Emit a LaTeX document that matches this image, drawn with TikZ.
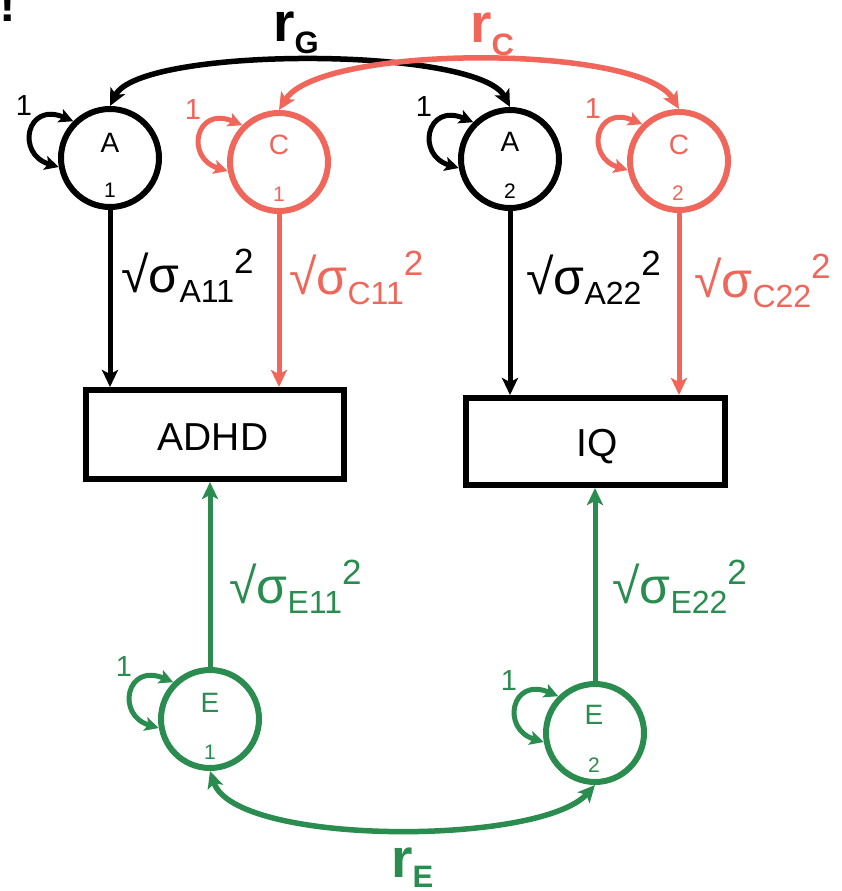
\documentclass[tikz,border=0pt]{standalone}
\usepackage{fontspec}
\setmainfont{Liberation Sans}
\usetikzlibrary{arrows.meta}
\definecolor{cred}{RGB}{240,102,90}
\definecolor{cgreen}{RGB}{42,140,78}
\newcommand\fsz[1]{\fontsize{#1}{#1}\selectfont}
\newcommand\sqlab[1]{{\fsz{50}√σ}\raisebox{-10pt}{\fsz{32}#1}\raisebox{19pt}{\fsz{35}2}}
\begin{document}
\begin{tikzpicture}[x=1pt,y=-1pt,
  lat/.style={circle, draw, line width=6pt, minimum size=98pt, inner sep=0pt},
  obs/.style={draw, line width=6pt, inner sep=0pt},
  path/.style={line width=5pt, -{Stealth[length=17pt,width=16pt,inset=4pt]}},
  cov/.style={line width=5.5pt, {Stealth[length=17pt,width=16pt,inset=4pt]}-{Stealth[length=17pt,width=16pt,inset=4pt]}},
  loopa/.style={line width=5pt, {Stealth[length=14pt,width=14pt,inset=3pt]}-{Stealth[length=14pt,width=14pt,inset=3pt]}},
  big/.style={font=\fsz{28}, inner sep=0pt},
  small/.style={font=\fsz{21}, inner sep=0pt},
  one/.style={font=\fsz{29}, inner sep=0pt},
  lab/.style={anchor=base west, inner sep=0pt},
  rlab/.style={anchor=base west, inner sep=0pt, font=\fsz{55}\bfseries}]
\useasboundingbox (0,0) rectangle (842,891);
\clip (0,0) rectangle (842,891);

\node[anchor=base west, inner sep=0pt, font=\fsz{50}\bfseries] (excl) at (-1,22) {!};

% latent circles
\node[lat] (A1) at (110,158) {};
\node[lat, draw=cred] (C1) at (279,162) {};
\node[lat] (A2) at (510,159) {};
\node[lat, draw=cred] (C2) at (679,161) {};
\node[lat, draw=cgreen] (E1) at (210,719) {};
\node[lat, draw=cgreen] (E2) at (595,733) {};

\node[big] (tA1) at (110,143) {A};
\node[small] (sA1) at (110,190) {1};
\node[big, text=cred] (tC1) at (279,145) {C};
\node[small, text=cred] (sC1) at (279,194) {1};
\node[big] (tA2) at (510,142) {A};
\node[small] (sA2) at (510,191) {2};
\node[big, text=cred] (tC2) at (679,145) {C};
\node[small, text=cred] (sC2) at (678,193) {2};
\node[big, text=cgreen] (tE1) at (210,703) {E};
\node[small, text=cgreen] (sE1) at (210,752) {1};
\node[big, text=cgreen] (tE2) at (594,715) {E};
\node[small, text=cgreen] (sE2) at (594,765) {2};

% observed boxes
\node[obs, minimum width=258pt, minimum height=89pt] (ADHD) at (215,434.5) {};
\node[font=\fsz{39}, inner sep=0pt] (tADHD) at (213,437) {ADHD};
\node[obs, minimum width=259pt, minimum height=87pt] (IQ) at (595.5,441.5) {};
\node[font=\fsz{39}, inner sep=0pt] (tIQ) at (597,447) {IQ};

% paths
\draw[path] (A1.south) -- (A1.south |- ADHD.north);
\draw[path, cred] (C1.south) -- (C1.south |- ADHD.north);
\draw[path] (A2.south) -- (A2.south |- IQ.north);
\draw[path, cred] (C2.south) -- (C2.south |- IQ.north);
\draw[path, cgreen] (E1.north) -- (E1.north |- ADHD.south);
\draw[path, cgreen] (E2.north) -- (E2.north |- IQ.south);

% path labels
\node[lab] (lA1) at (121,292) {\sqlab{A11}};
\node[lab, text=cred] (lC1) at (289,294) {\sqlab{C11}};
\node[lab] (lA2) at (526,294) {\sqlab{A22}};
\node[lab, text=cred] (lC2) at (694,297) {\sqlab{C22}};
\node[lab, text=cgreen] (lE1) at (229,603) {\sqlab{E11}};
\node[lab, text=cgreen] (lE2) at (612,603) {\sqlab{E22}};

% self loops
\foreach \n/\c in {A1/black, C1/cred, A2/black, C2/cred, E1/cgreen, E2/cgreen}{
  \draw[loopa, \c] (\n.135) .. controls +(-47,-20) and +(-43,-13) .. (\n.190);
  \node[one, text=\c] (one\n) at ([shift={(-86,-52)}]\n.center) {1};
}

% covariances
\draw[cov] (A1.north) .. controls (140,46) and (478,46) .. (A2.north);
\draw[cov, cred] (C1.north) .. controls (320,44) and (640,44) .. (C2.north);
\draw[cov, cgreen] (E1.south) .. controls (235,846) and (540,846) .. (E2.south);

\node[rlab] (rG) at (273,42) {r\raisebox{-11pt}{\fsz{31}G}};
\node[rlab, text=cred] (rC) at (470,43) {r\raisebox{-13pt}{\fsz{31}C}};
\node[rlab, text=cgreen] (rE) at (391,877) {r\raisebox{-10pt}{\fsz{31}E}};
\end{tikzpicture}
\end{document}
